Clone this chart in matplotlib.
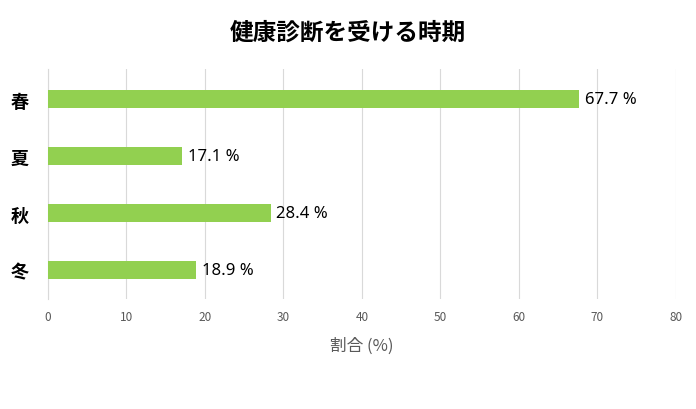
import matplotlib.pyplot as plt

plt.rcParams['font.family'] = ['Noto Sans CJK JP', 'DejaVu Sans']

seasons = ['春', '夏', '秋', '冬']
ratio = [67.7, 17.1, 28.4, 18.9]

fig = plt.figure(figsize=(6.96, 4.1), dpi=100)
ax = fig.add_axes([0.069, 0.268, 0.902, 0.561])

pos = list(range(len(seasons)))
ax.barh(pos, ratio, height=0.32, color='#92d050', zorder=3)
for p, v in zip(pos, ratio):
    ax.text(v + 0.7, p, f'{v} %', va='center', ha='left', fontsize=12,
            family=['Noto Sans', 'DejaVu Sans'], zorder=4)

ax.set_xlim(0, 80)
ax.set_ylim(3.51, -0.53)
ax.set_xticks(range(0, 81, 10))
ax.set_yticks(pos)
ax.set_yticklabels(seasons, fontsize=13, fontweight='bold')
ax.tick_params(axis='x', labelsize=8.5, colors='#595959', length=0, pad=8)
ax.tick_params(axis='y', length=0, pad=14)
ax.grid(axis='x', color='#d9d9d9', linewidth=0.8, zorder=0)
for s in ['top', 'right', 'bottom']:
    ax.spines[s].set_visible(False)
ax.spines['left'].set_color('#d9d9d9')

ax.set_xlabel('割合 (%)', fontsize=12, color='#595959', labelpad=10)
fig.text(0.5, 0.92, '健康診断を受ける時期', ha='center', va='center',
         fontsize=17, fontweight='bold')

fig.savefig('out.png', dpi=100)
